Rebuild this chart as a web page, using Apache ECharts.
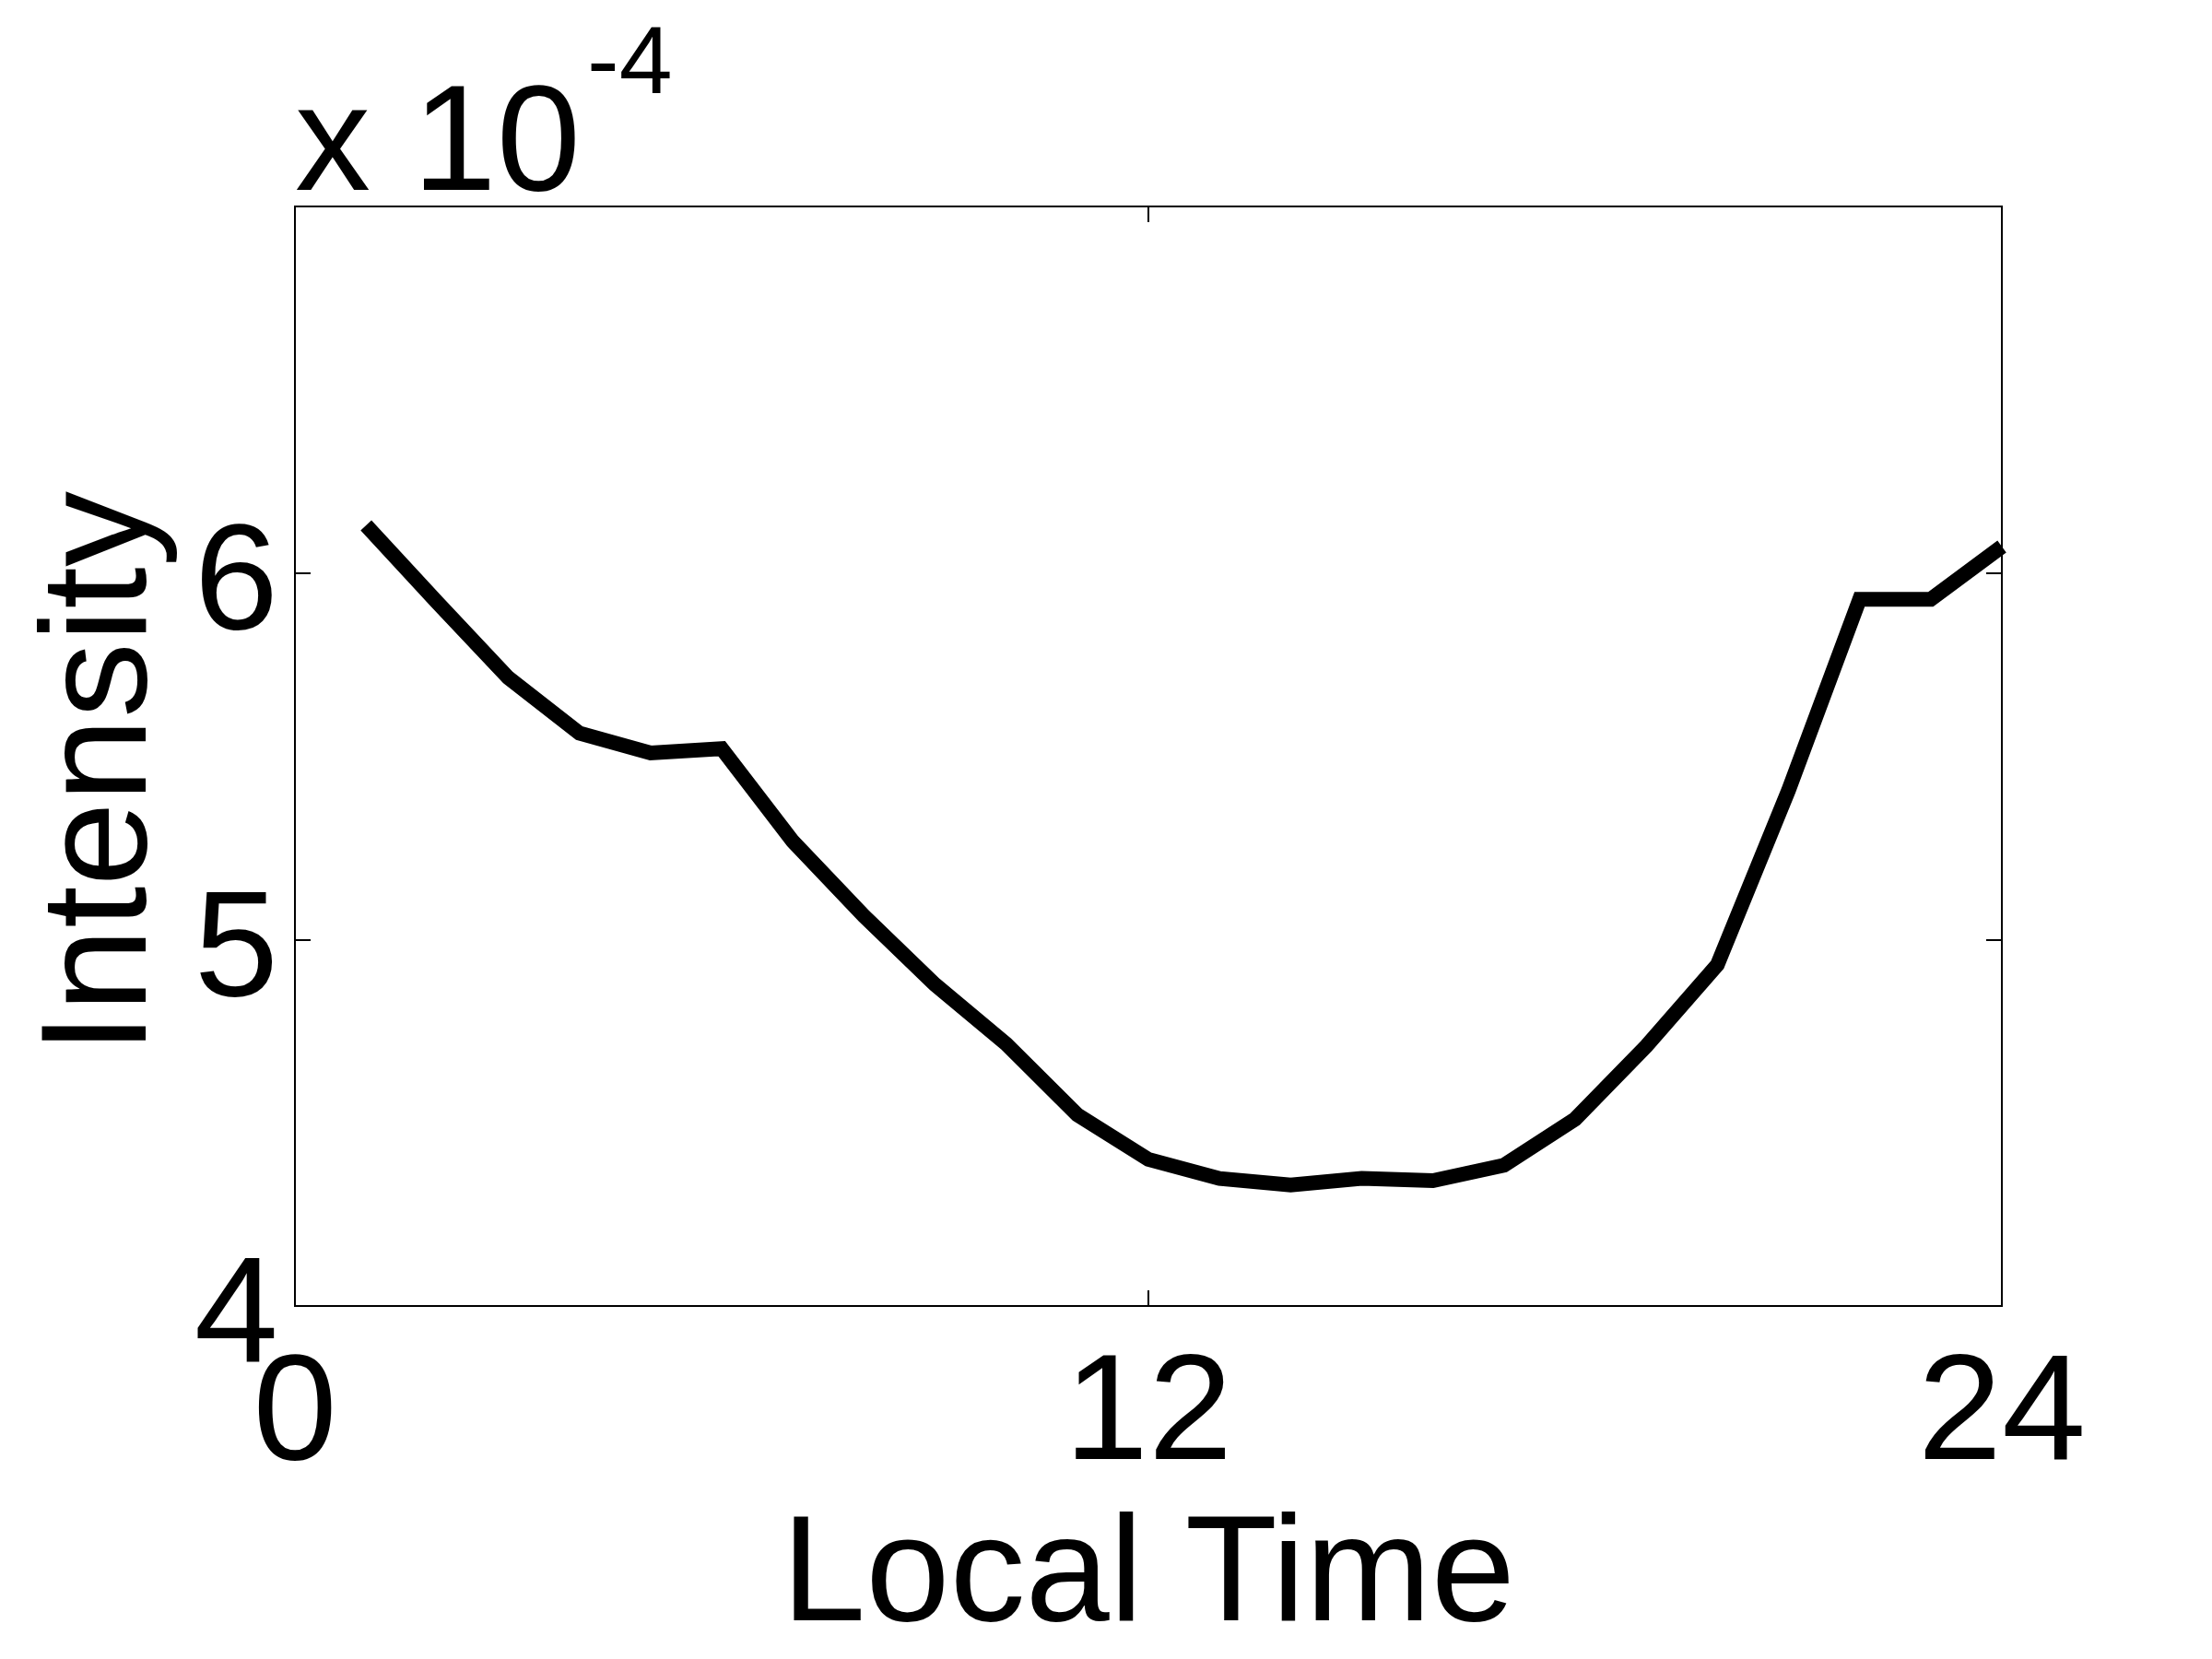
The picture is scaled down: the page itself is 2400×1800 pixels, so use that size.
<!DOCTYPE html>
<html>
<head>
<meta charset="utf-8">
<title>Intensity vs Local Time</title>
<script src="https://cdn.jsdelivr.net/npm/echarts@6/dist/echarts.min.js"></script>
<style>
  html, body { margin: 0; padding: 0; background: #fff; }
  #chart { width: 2400px; height: 1800px; }
</style>
</head>
<body>
<div id="chart"></div>
<script>
// hours of local time
var hours = [1, 2, 3, 4, 5, 6, 7, 8, 9, 10, 11, 12,
             13, 14, 15, 16, 17, 18, 19, 20, 21, 22, 23, 24];
// intensity, in units of 1e-4
var intensity = [6.13, 5.92, 5.714, 5.563, 5.509, 5.521, 5.268, 5.064, 4.877, 4.715, 4.522, 4.40,
                 4.348, 4.330, 4.348, 4.342, 4.384, 4.510, 4.709, 4.931, 5.407, 5.928, 5.928, 6.072];
var xTicks = [0, 12, 24];
var yTickLabels = [4, 5, 6];

var font = '"Liberation Sans", Arial, Helvetica, sans-serif';

var myChart = echarts.init(document.getElementById('chart'));

var points = [];
for (var i = 0; i < hours.length; i++) {
    points.push([hours[i], intensity[i]]);
}

var tickStyle = { show: true, inside: true, length: 17, lineStyle: { color: '#000', width: 2 } };
var lineStyle = { show: true, onZero: false, lineStyle: { color: '#000', width: 2 } };

option = {
    backgroundColor: '#fff',
    animation: false,
    grid: {
        left: 320,
        right: 228,
        top: 224,
        bottom: 383,
        show: true,
        borderColor: '#000',
        borderWidth: 2,
        backgroundColor: '#fff'
    },
    graphic: [
        {
            type: 'text',
            left: 320,
            top: 79,
            style: {
                text: 'x 10',
                font: '164px ' + font,
                fill: '#000'
            }
        },
        {
            type: 'text',
            left: 637,
            top: 20,
            style: {
                text: '-4',
                font: '104px ' + font,
                fill: '#000'
            }
        }
    ],
    xAxis: [
        {
            type: 'value',
            position: 'bottom',
            min: 0,
            max: 24,
            interval: 12,
            name: 'Local Time',
            nameLocation: 'middle',
            nameGap: 214,
            nameTextStyle: { fontFamily: font, fontSize: 164, color: '#000' },
            axisLine: lineStyle,
            axisTick: tickStyle,
            splitLine: { show: false },
            axisLabel: {
                margin: 39,
                fontFamily: font,
                fontSize: 164,
                color: '#000',
                formatter: function (v) { return xTicks.indexOf(v) >= 0 ? String(v) : ''; }
            }
        },
        {
            type: 'value',
            position: 'top',
            min: 0,
            max: 24,
            interval: 12,
            axisLine: lineStyle,
            axisTick: tickStyle,
            splitLine: { show: false },
            axisLabel: { show: false }
        }
    ],
    yAxis: [
        {
            type: 'value',
            position: 'left',
            min: 4,
            max: 7,
            interval: 1,
            name: 'Intensity',
            nameLocation: 'middle',
            nameGap: 125,
            nameTextStyle: { fontFamily: font, fontSize: 164, color: '#000', padding: [0, 36, 0, 0] },
            axisLine: lineStyle,
            axisTick: tickStyle,
            splitLine: { show: false },
            axisLabel: {
                margin: 18,
                verticalAlign: 'top',
                lineHeight: 30,
                fontFamily: font,
                fontSize: 164,
                color: '#000',
                formatter: function (v) { return yTickLabels.indexOf(v) >= 0 ? String(v) : ''; }
            }
        },
        {
            type: 'value',
            position: 'right',
            min: 4,
            max: 7,
            interval: 1,
            axisLine: lineStyle,
            axisTick: tickStyle,
            splitLine: { show: false },
            axisLabel: { show: false }
        }
    ],
    series: [
        {
            type: 'line',
            xAxisIndex: 0,
            yAxisIndex: 0,
            data: points,
            showSymbol: false,
            symbol: 'none',
            lineStyle: { color: '#000', width: 16, cap: 'butt', join: 'miter' }
        }
    ]
};

myChart.setOption(option);
</script>
</body>
</html>
